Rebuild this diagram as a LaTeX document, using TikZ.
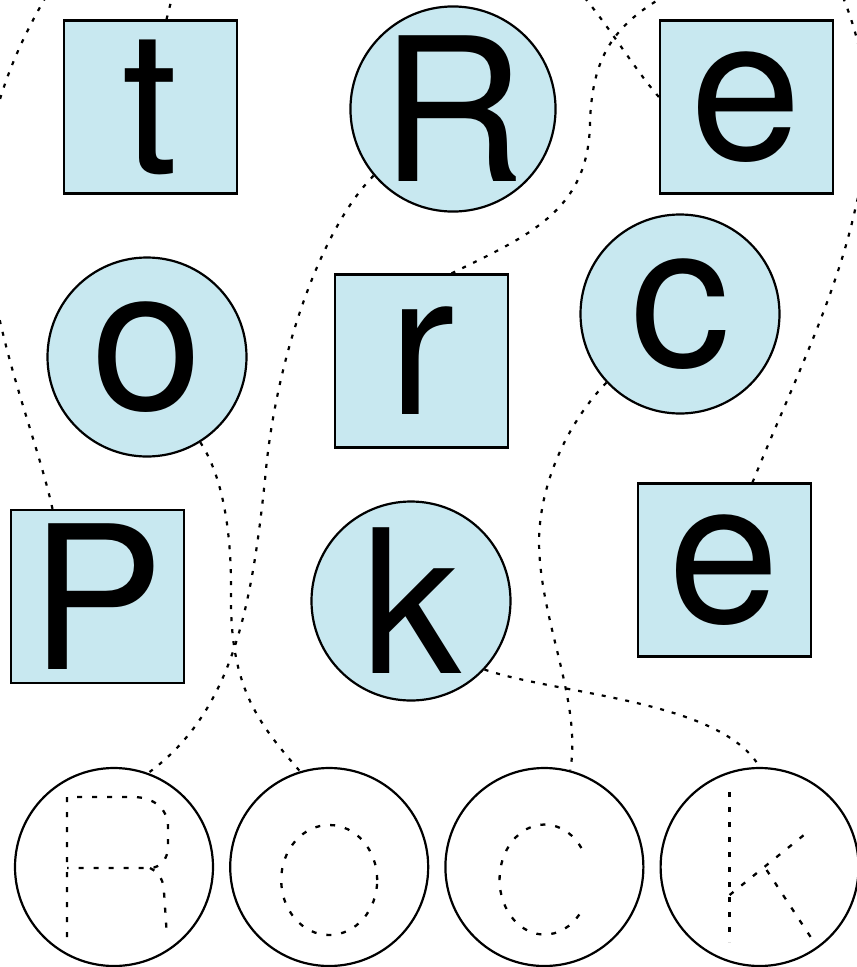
\documentclass[tikz,border=0pt]{standalone}
\usepackage{fontspec}
\setmainfont{TeX Gyre Heros}
\usetikzlibrary{positioning}
\definecolor{tilefill}{RGB}{200,232,240}

\begin{document}
\begin{tikzpicture}[
    x=1pt, y=-1pt,
    tile/.style = {
      draw=black, fill=tilefill, line width=2.2pt, inner sep=0pt,
      minimum size=173pt, font=\fontsize{200}{200}\selectfont
    },
    disc/.style = {tile, circle, minimum size=199pt},
    slot/.style = {
      draw=black, fill=white, circle, line width=2.2pt,
      minimum size=198pt, inner sep=0pt
    },
    trail/.style = {line width=2.2pt, dash pattern=on 4pt off 8pt},
    trace/.style = {line width=2.3pt, dash pattern=on 5pt off 10pt},
  ]
    \useasboundingbox (0,0) rectangle (857,967);
    \clip (0,0) rectangle (857,967);

    % Row 1: t R e
    \node[tile] (t)    at (150.5,107) {t};
    \node[disc] (bigR) at (453,109)   {R};
    \node[tile] (eTop) at (746.5,107) {e};

    % Row 2: o r c
    \node[disc] (o) at (147,357)   {o};
    \node[tile] (r) at (421.5,361) {r};
    \node[disc] (c) at (680,314)   {c};

    % Row 3: P k e
    \node[tile] (P)    at (97.5,596.5) {P};
    \node[disc] (k)    at (411,601)    {k};
    \node[tile] (eLow) at (724.5,570)  {e};

    % Row 4: empty slots
    \node[slot] (rockR) at (114,867) {};
    \node[slot, right=15pt of rockR] (rockO) {};
    \node[slot, right=15pt of rockO] (rockC) {};
    \node[slot, right=15pt of rockC] (rockK) {};

    % free ends, outside the frame
    \coordinate (tEnd) at (174,-10);
    \coordinate (rEnd) at (672,-8);
    \coordinate (eTopEnd) at (578,-10);
    \coordinate (eLowEnd) at (840,-10);
    \coordinate (PEnd) at (50,-10);

    % Trails to the slots
    \draw[trail] (bigR.220) .. controls (320,230) and (275,360) .. (265,480)
                 .. controls (252,600) and (235,710) .. (rockR.70);
    \draw[trail] (o.302) .. controls (225,480) and (232,540) .. (231,600)
                 .. controls (231,690) and (260,725) .. (rockO.107);
    \draw[trail] (c.223) .. controls (570,420) and (540,480) .. (539,540)
                 .. controls (539,620) and (582,700) .. (rockC.75);
    \draw[trail] (k.317) .. controls (560,695) and (720,700) .. (rockK.90);

    % Trails that leave the picture
    \draw[trail] ([xshift=16pt]t.north) -- (tEnd);
    \draw[trail] ([xshift=30pt]r.north) .. controls (530,235) and (590,210) .. (590,120)
                 .. controls (593,60) and (610,25) .. (rEnd);
    \draw[trail] ([yshift=10pt]eTop.west) .. controls (635,70) and (605,20) .. (eTopEnd);
    \draw[trail] ([xshift=28pt]eLow.north) .. controls (790,390) and (835,300) .. (855,210)
                 .. controls (875,130) and (870,60) .. (eLowEnd);
    \draw[trail] ([xshift=-45pt]P.north) .. controls (35,430) and (-10,330) .. (-15,215)
                 .. controls (-20,120) and (20,40) .. (PEnd);

    % Traced letters
    \begin{scope}[shift=(rockR.center)]
      \draw[trace] (-47,70) -- (-47,-70) -- (19,-70)
                   .. controls (40,-70) and (54,-58) .. (54,-40) -- (54,-20)
                   .. controls (54,-8) and (46,1) .. (36,1) -- (-47,1);
      \draw[trace] (36,1) .. controls (46,6) and (50,15) .. (50,25) -- (53,70);
    \end{scope}
    \begin{scope}[shift=(rockO.center)]
      \draw[trace] (0,13) ellipse [x radius=48pt, y radius=55pt];
    \end{scope}
    \begin{scope}[shift=(rockC.center)]
      \draw[trace] (37,-19) arc[start angle=35, end angle=330, x radius=45pt, y radius=55pt];
    \end{scope}
    \begin{scope}[shift=(rockK.center)]
      \draw[trace] (-30,-75) -- (-30,75);
      \draw[trace] (-30,28) -- (48,-35);
      \draw[trace] (7,3) -- (53,73);
    \end{scope}
  \end{tikzpicture}
\end{document}
